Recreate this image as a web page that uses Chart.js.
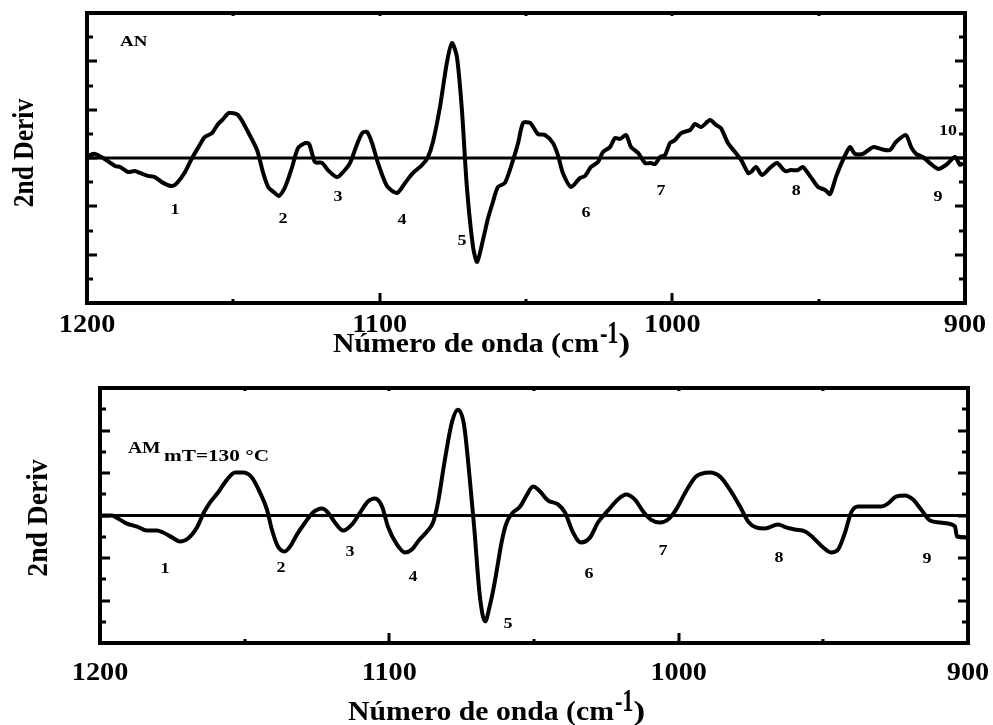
<!DOCTYPE html>
<html>
<head>
<meta charset="utf-8">
<script src="https://cdn.jsdelivr.net/npm/chart.js@4.4.0/dist/chart.umd.min.js"></script>
<style>
html,body{margin:0;padding:0;background:#fff;width:993px;height:725px;overflow:hidden}
canvas{position:absolute;left:0}
#c1{top:0}
#c2{top:362px}
</style>
</head>
<body>
<canvas id="c1" width="993" height="362"></canvas>
<canvas id="c2" width="993" height="363"></canvas>
<script>
// ---------- DATA ----------
// Top panel (AN): wavenumber (cm-1) and 2nd derivative values
const wavenumberAN = [
  1200, 1199, 1197.3, 1194.5, 1190.4, 1188.7, 1186, 1183.6, 1181.9, 1179.2,
  1176.8, 1174, 1171, 1169.2, 1166.5, 1164.1, 1162.1, 1159.7, 1157.3, 1155.2,
  1153.5, 1151.5, 1148.4, 1145, 1141.9, 1139.9, 1138.1, 1135.8, 1134.4, 1132.3,
  1130, 1127.9, 1125.5, 1124.1, 1122.1, 1119.7, 1117.7, 1114.6, 1112.5, 1110.1,
  1108.1, 1106, 1104.3, 1102.6, 1100.6, 1097.5, 1094.1, 1091.3, 1088.6, 1085.5,
  1083.5, 1081.8, 1079.4, 1077, 1075.3, 1073.6, 1071.9, 1070.2, 1068.1, 1066.7,
  1064.7, 1063, 1061.3, 1059.6, 1057.2, 1054.4, 1052.7, 1051, 1048.6, 1045.9,
  1043.5, 1040.8, 1039.1, 1037.4, 1034.6, 1031.6, 1029.8, 1027.8, 1025.4, 1023.7,
  1021.3, 1019.6, 1017.9, 1015.8, 1014.1, 1011.7, 1009.3, 1007.3, 1005.9, 1004.2,
  1002.5, 1000.8, 999.1, 997, 993.9, 992.3, 990.2, 987.1, 985.1, 983.4,
  981, 978.6, 976.5, 974.1, 973.1, 971.4, 969.4, 966.6, 964.2, 961.5,
  959.5, 957.1, 955.4, 953, 950.2, 947.8, 946.1, 944.1, 941.7, 939.3,
  937.6, 934.9, 931.4, 928.7, 925.6, 923.6, 920.2, 918.4, 916.7, 914.4,
  912, 909.2, 906.5, 903.4, 901.7, 900.7
];
const derivAN = [
  0.05, 0.12, 0.17, 0, -0.33, -0.37, -0.58, -0.54, -0.62, -0.74,
  -0.79, -1.03, -1.16, -1.03, -0.58, 0, 0.41, 0.87, 1.03, 1.41,
  1.61, 1.86, 1.78, 1.08, 0.33, -0.58, -1.2, -1.45, -1.57, -1.2,
  -0.41, 0.41, 0.62, 0.58, -0.17, -0.2, -0.5, -0.79, -0.58, -0.2,
  0.45, 1.03, 1.08, 0.62, -0.2, -1.16, -1.45, -1.03, -0.62, -0.29,
  0.04, 0.66, 2.11, 3.97, 4.76, 4.18, 1.99, -1.2, -3.68, -4.3,
  -3.39, -2.5, -1.82, -1.2, -1.03, -0.08, 0.62, 1.45, 1.45, 0.99,
  0.95, 0.62, 0.12, -0.62, -1.2, -0.83, -0.74, -0.37, -0.17, 0.25,
  0.45, 0.83, 0.79, 0.95, 0.45, 0.21, -0.21, -0.21, -0.25, 0.04,
  0.12, 0.62, 0.74, 1.03, 1.16, 1.41, 1.28, 1.57, 1.37, 1.24,
  0.62, 0.25, -0.08, -0.62, -0.58, -0.37, -0.7, -0.41, -0.21, -0.54,
  -0.5, -0.5, -0.37, -0.74, -1.2, -1.32, -1.49, -0.79, -0.08, 0.45,
  0.17, 0.17, 0.45, 0.37, 0.33, 0.66, 0.95, 0.45, 0.17, 0.04,
  -0.21, -0.45, -0.29, 0.04, -0.29, -0.21
];

// Bottom panel (AM mT=130 °C)
const wavenumberAM = [
  1200, 1195.9, 1193.8, 1190.7, 1187.2, 1183.8, 1180.3, 1178.2, 1175.1, 1172.4,
  1169.6, 1166.5, 1164.1, 1162, 1159.2, 1156.1, 1153.3, 1150.6, 1147.5, 1144.7,
  1142.3, 1140.6, 1138.5, 1136.1, 1134.3, 1131.9, 1129.1, 1126.4, 1123.3, 1121.2,
  1118.8, 1116, 1112.9, 1110.1, 1107.4, 1105, 1102.5, 1100.5, 1097.4, 1094.6,
  1092.2, 1090.1, 1087, 1084.9, 1083.2, 1080.8, 1078.3, 1076.3, 1074.2, 1072.5,
  1070.7, 1068.7, 1066.9, 1065.2, 1063.8, 1062.4, 1061.4, 1060, 1059, 1057.3,
  1054.8, 1052.8, 1050.3, 1047.9, 1045.2, 1041.7, 1039.3, 1036.5, 1033.8, 1030.6,
  1027.9, 1024.4, 1021, 1018.2, 1015.1, 1012.3, 1009.6, 1006.5, 1003.7, 1000.9,
  997.5, 994, 989.2, 985.7, 982.3, 978.8, 976, 973.3, 970.2, 965.7,
  962.9, 959.8, 956.3, 953.6, 950.1, 947.4, 944.9, 942.5, 940.4, 938,
  933.9, 930.1, 927.7, 924.9, 921.8, 919, 916.2, 913.1, 909.7, 906.9,
  904.5, 903.8, 900.7, 900
];
const derivAM = [
  0, 0, -0.14, -0.38, -0.52, -0.71, -0.71, -0.8, -1.03, -1.22,
  -1.08, -0.56, 0.14, 0.61, 1.08, 1.69, 2.02, 2.02, 1.79, 1.08,
  0.28, -0.66, -1.46, -1.69, -1.46, -0.89, -0.33, 0.14, 0.33, 0.14,
  -0.33, -0.71, -0.42, 0.14, 0.66, 0.8, 0.42, -0.52, -1.36, -1.74,
  -1.6, -1.22, -0.75, -0.33, 0.61, 2.63, 4.42, 4.98, 4.28, 2.16,
  -0.52, -3.81, -4.98, -4.2, -3.3, -2.2, -1.4, -0.56, -0.19, 0.14,
  0.42, 0.89, 1.36, 1.13, 0.71, 0.52, 0.14, -0.8, -1.27, -1.03,
  -0.33, 0.24, 0.75, 0.99, 0.75, 0.19, -0.19, -0.33, -0.19, 0.28,
  1.13, 1.83, 2.02, 1.83, 1.22, 0.42, -0.28, -0.56, -0.61, -0.42,
  -0.56, -0.66, -0.75, -1.03, -1.5, -1.74, -1.6, -0.8, 0.14, 0.42,
  0.42, 0.42, 0.56, 0.89, 0.94, 0.75, 0.28, -0.24, -0.33, -0.38,
  -0.52, -0.99, -1.03, -1.03
];

// Axis tick labels
const xTickValues = [1200, 1100, 1000, 900];
const xTickLabels = ['1200', '1100', '1000', '900'];

// Band labels (text, wavenumber, value)
const bandTextAN = ['1','2','3','4','5','6','7','8','9','10'];
const bandWnAN   = [1169.9, 1133.0, 1114.2, 1092.4, 1071.9, 1029.5, 1003.9, 957.7, 909.2, 905.8];
const bandValAN  = [-2.15, -2.52, -1.61, -2.57, -3.43, -2.28, -1.37, -1.37, -1.61, 1.12];

const bandTextAM = ['1','2','3','4','5','6','7','8','9'];
const bandWnAM   = [1177.5, 1137.4, 1113.6, 1091.8, 1059.0, 1031.0, 1005.4, 965.3, 914.2];
const bandValAM  = [-2.54, -2.49, -1.74, -2.91, -5.12, -2.77, -1.69, -2.02, -2.07];

// ---------- DRAWING ----------
const SERIF = '"Liberation Serif", "Times New Roman", serif';

function sText(ctx, txt, x, y, size, sx, align, baseline) {
  ctx.save();
  ctx.font = 'bold ' + size + 'px ' + SERIF;
  ctx.textAlign = align || 'left';
  ctx.textBaseline = baseline || 'alphabetic';
  ctx.translate(x, y);
  ctx.scale(sx, 1);
  ctx.fillText(txt, 0, 0);
  const w = ctx.measureText(txt).width * sx;
  ctx.restore();
  return w;
}

function makeChart(id, wn, vals, cfg) {
  const deco = {
    id: 'deco',
    afterDraw(chart) {
      const ctx = chart.ctx, a = chart.chartArea;
      const xs = chart.scales.x, ys = chart.scales.y;
      ctx.save();
      ctx.strokeStyle = '#000';
      ctx.fillStyle = '#000';
      // inward ticks
      ctx.lineWidth = 3;
      ctx.beginPath();
      for (let v = ys.min + 1; v < ys.max; v += 1) {
        const y = Math.round(ys.getPixelForValue(v));
        const len = (v % 2 === 0) ? 10 : 6;
        ctx.moveTo(a.left, y); ctx.lineTo(a.left + len, y);
        ctx.moveTo(a.right, y); ctx.lineTo(a.right - len, y);
      }
      for (let v = xs.min + 50; v < xs.max; v += 50) {
        const x = Math.round(xs.getPixelForValue(v));
        const len = (v % 100 === 0) ? 10 : 4;
        ctx.moveTo(x, a.bottom); ctx.lineTo(x, a.bottom - len);
        ctx.moveTo(x, a.top); ctx.lineTo(x, a.top + 3);
      }
      ctx.stroke();
      // frame
      ctx.lineWidth = 4;
      ctx.strokeRect(a.left, a.top, a.right - a.left, a.bottom - a.top);
      // x tick labels
      xTickValues.forEach((v, i) => {
        sText(ctx, xTickLabels[i], xs.getPixelForValue(v), a.bottom + cfg.tickDy, 25, 1.13, 'center');
      });
      // x title
      let x = cfg.xt[0];
      const by = cfg.xt[1];
      x += sText(ctx, 'Número de onda (cm', x, by, 27, 1.1, 'left');
      x += sText(ctx, '-1', x + 1, by - 9, 32, 0.7, 'left') + 1;
      sText(ctx, ')', x, by, 27, 1.3, 'left');
      // y title (rotated)
      ctx.save();
      ctx.translate(cfg.yt[0], cfg.yt[1]);
      ctx.rotate(-Math.PI / 2);
      sText(ctx, '2nd Deriv', 0, 0, 30, cfg.yt[2], 'center');
      ctx.restore();
      // sample name
      cfg.name(ctx);
      // band labels
      cfg.bands[0].forEach((t, i) => {
        sText(ctx, t, xs.getPixelForValue(cfg.bands[1][i]), ys.getPixelForValue(cfg.bands[2][i]), 15, 1.2, 'center', 'middle');
      });
      ctx.restore();
    }
  };

  return new Chart(document.getElementById(id), {
    type: 'line',
    data: {
      datasets: [
        {
          data: wn.map((w, i) => ({x: w, y: vals[i]})),
          borderColor: '#000',
          borderWidth: 4,
          pointRadius: 0,
          fill: false,
          tension: cfg.tension,
          cubicInterpolationMode: cfg.mono ? 'monotone' : 'default'
        },
        {
          data: [{x: 1200, y: 0}, {x: 900, y: 0}],
          borderColor: '#000',
          borderWidth: 3,
          pointRadius: 0,
          fill: false
        }
      ]
    },
    options: {
      responsive: false,
      animation: false,
      events: [],
      layout: {padding: cfg.pad},
      plugins: {legend: {display: false}, tooltip: {enabled: false}},
      scales: {
        x: {type: 'linear', reverse: true, min: 900, max: 1200, display: false, ticks: {stepSize: 50}},
        y: {type: 'linear', min: -6, max: 6, display: false, ticks: {stepSize: 1}}
      }
    },
    plugins: [deco]
  });
}

makeChart('c1', wavenumberAN, derivAN, {
  pad: {left: 87, right: 28, top: 13, bottom: 59},
  tension: 0.25, mono: false,
  tickDy: 29,
  xt: [333, 352],
  yt: [33, 153, 0.85],
  name: (ctx) => { sText(ctx, 'AN', 120, 46, 14, 1.35, 'left'); },
  bands: [bandTextAN, bandWnAN, bandValAN]
});

makeChart('c2', wavenumberAM, derivAM, {
  pad: {left: 100, right: 25, top: 26, bottom: 82},
  tension: 0.4, mono: true,
  tickDy: 37,
  xt: [348, 358],
  yt: [47, 156, 0.92],
  name: (ctx) => {
    sText(ctx, 'AM', 128, 91, 17, 1.15, 'left');
    sText(ctx, 'mT=130 °C', 164, 99, 17, 1.25, 'left');
  },
  bands: [bandTextAM, bandWnAM, bandValAM]
});
</script>
</body>
</html>
